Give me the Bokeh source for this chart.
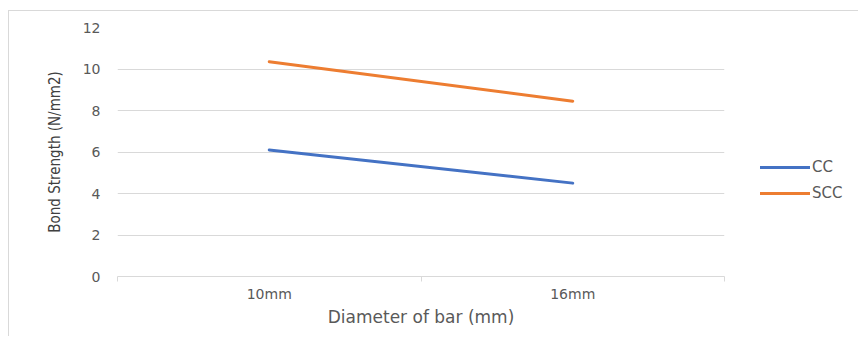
from bokeh.plotting import figure
from bokeh.models import FixedTicker, Range1d, Legend, LegendItem, ColumnDataSource
from bokeh.embed import file_html
from bokeh.resources import INLINE

categories = ["10mm", "16mm"]
cc_values = [6.1, 4.5]
scc_values = [10.35, 8.45]
y_ticks = [0, 2, 4, 6, 8, 10, 12]

xpos = [i + 0.5 for i in range(len(categories))]
src = ColumnDataSource(dict(x=xpos, cc=cc_values, scc=scc_values))

FONT = "'DejaVu Sans', sans-serif"
NARROW = "'Liberation Sans Narrow', 'DejaVu Sans Condensed', sans-serif"
GRID = "#d9d9d9"
TXT = "#595959"

p = figure(frame_width=607, frame_height=249, output_backend="svg", toolbar_location=None,
           x_range=Range1d(0, len(categories)), y_range=Range1d(0, 12),
           min_border_left=108, min_border_right=134, min_border_top=16, min_border_bottom=60)
p.margin = (10, 0, 0, 8)
p.styles = {"border-top": "1px solid #d9d9d9", "border-left": "1px solid #d9d9d9"}
p.outline_line_color = None
p.background_fill_color = "white"

r1 = p.line("x", "cc", source=src, line_color="#4472C4", line_width=3, line_cap="round")
r2 = p.line("x", "scc", source=src, line_color="#ED7D31", line_width=3, line_cap="round")

# x axis
xt = FixedTicker(ticks=xpos, minor_ticks=list(range(len(categories) + 1)))
p.xaxis.ticker = xt
p.xaxis.major_label_overrides = {x: c for x, c in zip(xpos, categories)}
p.xaxis.major_tick_line_color = None
p.xaxis.major_tick_out = 0
p.xaxis.major_tick_in = 0
p.xaxis.minor_tick_line_color = GRID
p.xaxis.minor_tick_out = 5
p.xaxis.minor_tick_in = 0
p.xaxis.axis_line_color = GRID
p.xaxis.axis_line_width = 1
p.xaxis.major_label_text_font = FONT
p.xaxis.major_label_text_font_size = "14px"
p.xaxis.major_label_text_color = TXT
p.xaxis.major_label_standoff = 4
p.xaxis.axis_label = "Diameter of bar (mm)"
p.xaxis.axis_label_text_font = FONT
p.xaxis.axis_label_text_font_size = "17px"
p.xaxis.axis_label_text_font_style = "normal"
p.xaxis.axis_label_text_color = TXT
p.xaxis.axis_label_standoff = 2
p.xgrid.grid_line_color = None

# y axis
p.yaxis.ticker = FixedTicker(ticks=y_ticks)
p.yaxis.axis_line_color = None
p.yaxis.major_tick_line_color = None
p.yaxis.minor_tick_line_color = None
p.yaxis.major_tick_out = 0
p.yaxis.major_label_standoff = 17
p.yaxis.major_label_text_font = FONT
p.yaxis.major_label_text_font_size = "14px"
p.yaxis.major_label_text_color = TXT
p.yaxis.axis_label = "Bond Strength (N/mm2)"
p.yaxis.axis_label_text_font = NARROW
p.yaxis.axis_label_text_font_size = "15px"
p.yaxis.axis_label_text_font_style = "normal"
p.yaxis.axis_label_text_color = "#404040"
p.yaxis.axis_label_standoff = 16
p.ygrid.grid_line_color = GRID
p.ygrid.grid_line_width = 1

legend = Legend(items=[LegendItem(label="CC", renderers=[r1]), LegendItem(label="SCC", renderers=[r2])],
                location=(36, 73), border_line_color=None, background_fill_alpha=0,
                glyph_width=50, label_standoff=2, spacing=6, padding=0, margin=0,
                label_text_font=FONT, label_text_font_size="15px", label_text_color=TXT)
p.add_layout(legend, "right")

open("out.html", "w").write(file_html(p, INLINE))
